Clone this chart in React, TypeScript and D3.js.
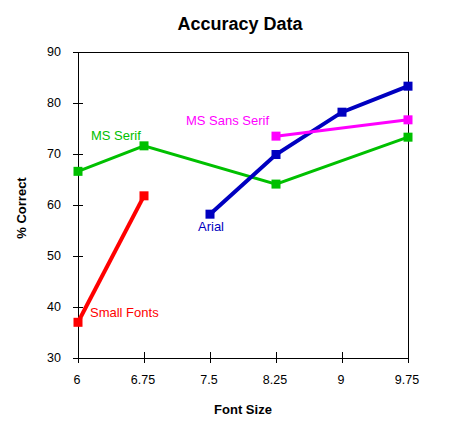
import React from 'react';
import * as d3 from 'd3';

// Font size on the x axis, accuracy (% correct) on the y axis
const xTicks = [6, 6.75, 7.5, 8.25, 9, 9.75];
const yTicks = [30, 40, 50, 60, 70, 80, 90];

const smallFontsX = [6, 6.75];
const smallFontsY = [37, 61.8];
const msSerifX = [6, 6.75, 8.25, 9.75];
const msSerifY = [66.6, 71.6, 64.1, 73.3];
const arialX = [7.5, 8.25, 9, 9.75];
const arialY = [58.2, 69.9, 78.2, 83.3];
const msSansSerifX = [8.25, 9.75];
const msSansSerifY = [73.5, 76.7];

type Series = {
  name: string;
  xs: number[];
  ys: number[];
  color: string;
  width: number;
  // label placement relative to the first point
  dx: number;
  dy: number;
  anchor: 'start' | 'end';
};

const series: Series[] = [
  { name: 'MS Serif', xs: msSerifX, ys: msSerifY, color: '#00c000', width: 3, dx: 13, dy: -31, anchor: 'start' },
  { name: 'Arial', xs: arialX, ys: arialY, color: '#0000c0', width: 4, dx: -12, dy: 17, anchor: 'start' },
  { name: 'MS Sans Serif', xs: msSansSerifX, ys: msSansSerifY, color: '#ff00ff', width: 3, dx: -7, dy: -11, anchor: 'end' },
  { name: 'Small Fonts', xs: smallFontsX, ys: smallFontsY, color: '#ff0000', width: 4, dx: 12, dy: -5, anchor: 'start' },
];

const W = 449;
const H = 428;
const left = 78;
const right = 408;
const top = 52;
const bottom = 358;
const font = 'Arial, "Liberation Sans", sans-serif';

export default function App() {
  const x = d3.scaleLinear().domain([6, 9.75]).range([left, right]);
  const y = d3.scaleLinear().domain([30, 90]).range([bottom, top]);
  const line = d3
    .line<[number, number]>()
    .x(d => x(d[0]))
    .y(d => y(d[1]));

  return (
    <div style={{ position: 'absolute', left: 0, top: 0 }}>
      <svg width={W} height={H} style={{ display: 'block', background: '#fff' }} fontFamily={font}>
        <text x={240} y={30} textAnchor="middle" fontSize={18} fontWeight="bold">
          Accuracy Data
        </text>

        {/* frame */}
        <rect x={left} y={top} width={right - left} height={bottom - top} fill="none" stroke="#000" strokeWidth={1} shapeRendering="crispEdges" />

        {/* y axis */}
        {yTicks.map(t => (
          <g key={'y' + t}>
            <line x1={left - 5} x2={left + 5} y1={y(t)} y2={y(t)} stroke="#000" shapeRendering="crispEdges" />
            <text x={61} y={y(t)} dy="0.35em" textAnchor="end" fontSize={12.5}>
              {t}
            </text>
          </g>
        ))}

        {/* x axis */}
        {xTicks.map(t => (
          <g key={'x' + t}>
            <line x1={x(t)} x2={x(t)} y1={bottom - 6} y2={bottom + 5} stroke="#000" shapeRendering="crispEdges" />
            <text x={x(t) - 1} y={384} textAnchor="middle" fontSize={12.5}>
              {t}
            </text>
          </g>
        ))}

        <text x={243} y={414} textAnchor="middle" fontSize={13} fontWeight="bold">
          Font Size
        </text>
        <text transform="translate(26,208) rotate(-90)" textAnchor="middle" fontSize={13} fontWeight="bold">
          % Correct
        </text>

        {series.map(s => {
          const pts = s.xs.map((v, i) => [v, s.ys[i]] as [number, number]);
          return (
            <g key={s.name}>
              <path d={line(pts) ?? ''} fill="none" stroke={s.color} strokeWidth={s.width} />
              {pts.map((p, i) => (
                <rect key={i} x={x(p[0]) - 4.5} y={y(p[1]) - 4.5} width={9} height={9} fill={s.color} />
              ))}
              <text
                x={x(pts[0][0]) + s.dx}
                y={y(pts[0][1]) + s.dy}
                textAnchor={s.anchor}
                fontSize={13}
                fill={s.color}
              >
                {s.name}
              </text>
            </g>
          );
        })}
      </svg>
    </div>
  );
}
